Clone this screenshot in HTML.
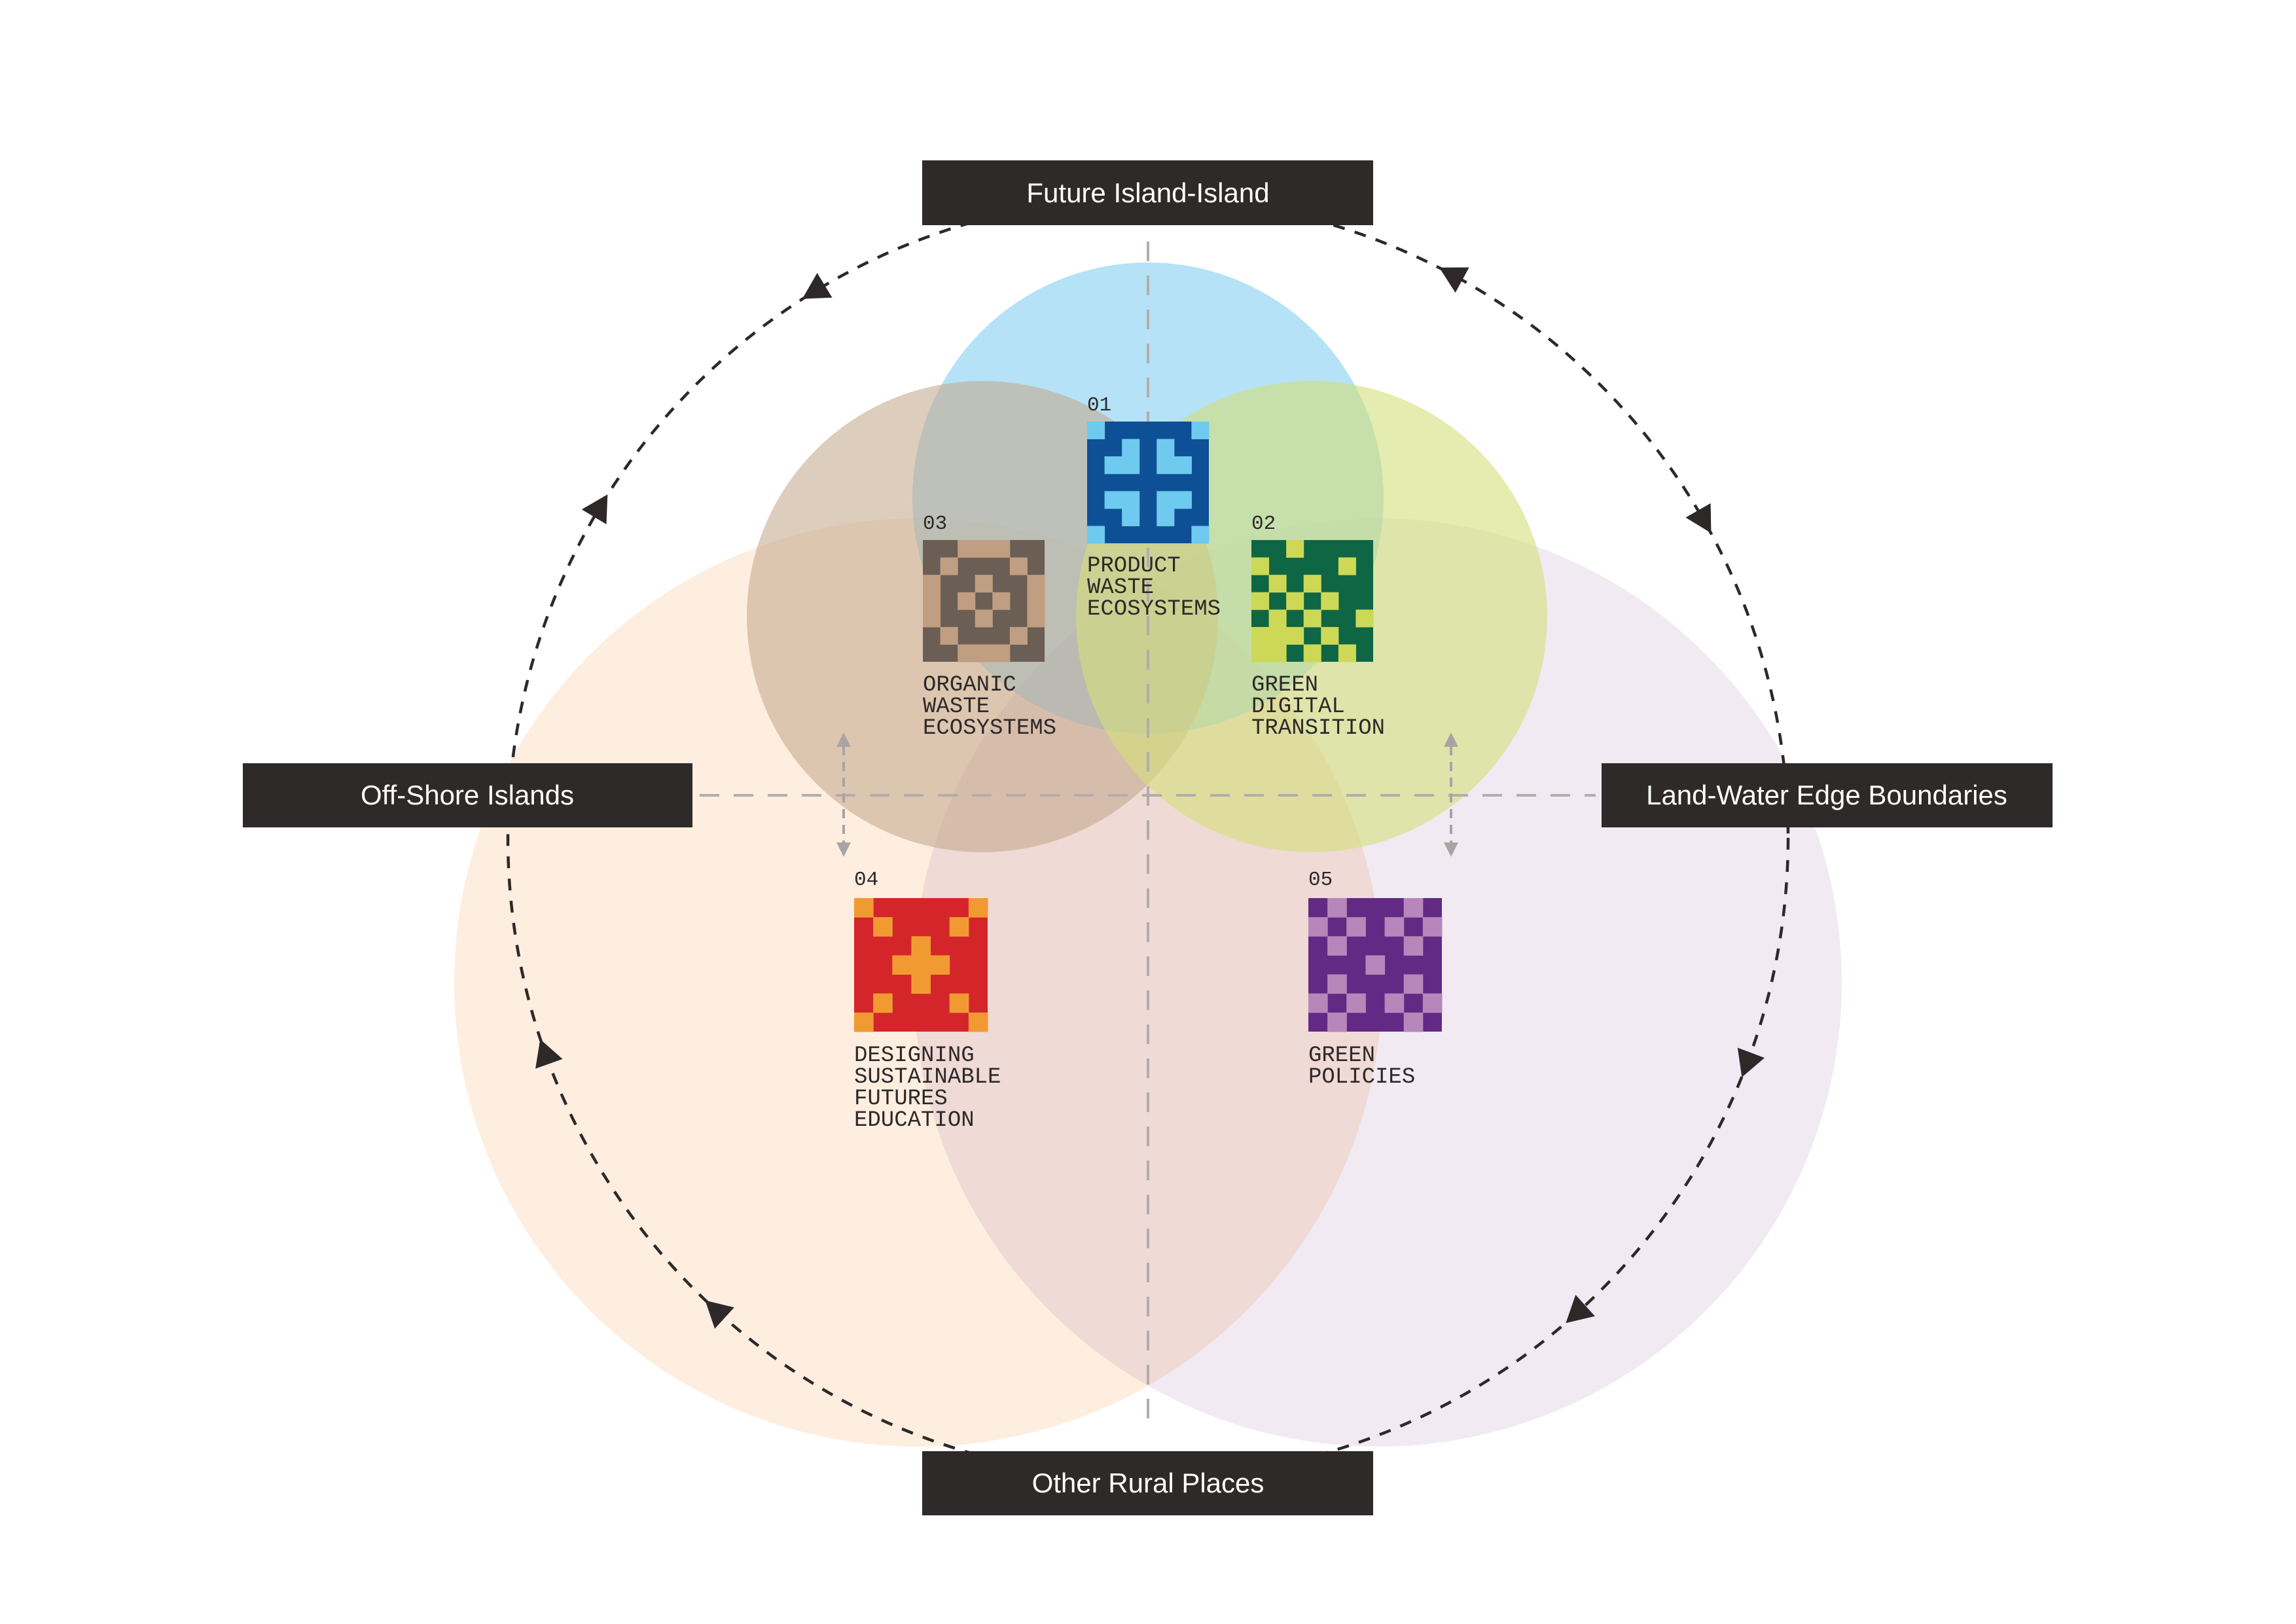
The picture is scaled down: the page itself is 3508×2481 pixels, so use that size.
<!DOCTYPE html>
<html><head><meta charset="utf-8">
<style>
html,body{margin:0;padding:0;background:#fff;}
svg{display:block;}
.lbl{font-family:"Liberation Mono",monospace;font-size:34px;fill:#2d2929;}
.num{font-family:"Liberation Mono",monospace;font-size:31px;fill:#2d2929;}
.box{font-family:"Liberation Sans",sans-serif;font-size:42px;fill:#fff;}
</style></head>
<body>
<svg id="s" width="3508" height="2481" viewBox="0 0 3508 2481" xmlns="http://www.w3.org/2000/svg">
<rect width="3508" height="2481" fill="#fff"/>
<!-- big circles -->
<circle cx="1403" cy="1501" r="709" fill="#fdeee0"/>
<circle cx="2105" cy="1501" r="709" fill="#f1eaf3" style="mix-blend-mode:multiply"/>
<!-- small circles -->
<circle cx="1754" cy="761" r="360" fill="#7fcdf0" fill-opacity="0.58"/>
<circle cx="1501" cy="942" r="360" fill="#c4a88e" fill-opacity="0.58"/>
<circle cx="2004" cy="942" r="360" fill="#d4e07a" fill-opacity="0.6"/>
<!-- gray dashed axes -->
<line x1="1754" y1="369" x2="1754" y2="2181" stroke="#b3acac" stroke-width="4" stroke-dasharray="30,22"/>
<line x1="1069" y1="1215" x2="2438" y2="1215" stroke="#b3acac" stroke-width="4" stroke-dasharray="30,22"/>
<!-- small gray double arrows -->
<g stroke="#a9a4a4" stroke-width="4" stroke-dasharray="14,10">
<line x1="1289" y1="1140" x2="1289" y2="1290"/>
<line x1="2217" y1="1140" x2="2217" y2="1290"/>
</g>
<g fill="#a9a4a4">
<polygon points="1289,1119 1278,1141 1300,1141"/>
<polygon points="1289,1309 1278,1287 1300,1287"/>
<polygon points="2217,1119 2206,1141 2228,1141"/>
<polygon points="2217,1309 2206,1287 2228,1287"/>
</g>
<!-- big dashed circle -->
<circle cx="1754" cy="1280" r="978" fill="none" stroke="#2d2929" stroke-width="4.5" stroke-dasharray="18,16"/>
<g id="arrows" fill="#2d2929"></g>
<!-- boxes -->
<rect x="1409" y="245" width="689" height="99" fill="#2e2a2a"/>
<text class="box" x="1754" y="309" text-anchor="middle">Future Island-Island</text>
<rect x="1409" y="2217" width="689" height="98" fill="#2e2a2a"/>
<text class="box" x="1754" y="2280" text-anchor="middle">Other Rural Places</text>
<rect x="371" y="1166" width="687" height="98" fill="#2e2a2a"/>
<text class="box" x="714" y="1229" text-anchor="middle">Off-Shore Islands</text>
<rect x="2447" y="1166" width="689" height="98" fill="#2e2a2a"/>
<text class="box" x="2791" y="1229" text-anchor="middle">Land-Water Edge Boundaries</text>
<g id="icons"></g>
<!-- labels -->
<text class="num" x="1661" y="627">01</text>
<text class="lbl" x="1661" y="873">PRODUCT</text>
<text class="lbl" x="1661" y="906">WASTE</text>
<text class="lbl" x="1661" y="939">ECOSYSTEMS</text>
<text class="num" x="1410" y="808">03</text>
<text class="lbl" x="1410" y="1055">ORGANIC</text>
<text class="lbl" x="1410" y="1088">WASTE</text>
<text class="lbl" x="1410" y="1121">ECOSYSTEMS</text>
<text class="num" x="1912" y="808">02</text>
<text class="lbl" x="1912" y="1055">GREEN</text>
<text class="lbl" x="1912" y="1088">DIGITAL</text>
<text class="lbl" x="1912" y="1121">TRANSITION</text>
<text class="num" x="1305" y="1352">04</text>
<text class="lbl" x="1305" y="1621">DESIGNING</text>
<text class="lbl" x="1305" y="1654">SUSTAINABLE</text>
<text class="lbl" x="1305" y="1687">FUTURES</text>
<text class="lbl" x="1305" y="1720">EDUCATION</text>
<text class="num" x="1999" y="1352">05</text>
<text class="lbl" x="1999" y="1621">GREEN</text>
<text class="lbl" x="1999" y="1654">POLICIES</text>
</svg>
<script>
(function(){
var NS="http://www.w3.org/2000/svg";
var cx=1754,cy=1280,r=978,s=2.237;
var pts=[[558,200,-1],[408,346,1],[372,720,1],[488,897,1],[994,185,-1],[1163,355,1],[1197,727,1],[1078,897,1]];
var g=document.getElementById("arrows");
pts.forEach(function(p){
  var x=p[0]*s,y=p[1]*s;
  var t=Math.atan2(y-cy,x-cx);
  var px=cx+r*Math.cos(t),py=cy+r*Math.sin(t);
  var dx=-Math.sin(t)*p[2],dy=Math.cos(t)*p[2];
  var ang=Math.atan2(dy,dx)*180/Math.PI;
  var poly=document.createElementNS(NS,"polygon");
  poly.setAttribute("points","24,0 -16,-22 -16,22");
  poly.setAttribute("transform","translate("+px.toFixed(1)+","+py.toFixed(1)+") rotate("+ang.toFixed(1)+")");
  g.appendChild(poly);
});
var icons=[
 {x:1661,y:644,w:186,a:"#0e5096",b:"#6ecaee",m:["1000001","0010100","0110110","0000000","0110110","0010100","1000001"]},
 {x:1410,y:825,w:186,a:"#6a5e55",b:"#c09e82",m:["0011100","0100010","1001001","1010101","1001001","0100010","0011100"]},
 {x:1912,y:825,w:186,a:"#0f6644",b:"#cdd857",m:["0010000","1000010","0101000","1010100","0101001","1110100","1101010"]},
 {x:1305,y:1372,w:204,a:"#d4262a",b:"#f29a32",m:["1000001","0100010","0001000","0011100","0001000","0100010","1000001"]},
 {x:1999,y:1372,w:204,a:"#622a84",b:"#b787bc",m:["0100010","1010101","0100010","0001000","0100010","1010101","0100010"]}
];
var ig=document.getElementById("icons");
icons.forEach(function(ic){
  var c=ic.w/7;
  var bg=document.createElementNS(NS,"rect");
  bg.setAttribute("x",ic.x);bg.setAttribute("y",ic.y);bg.setAttribute("width",ic.w);bg.setAttribute("height",ic.w);bg.setAttribute("fill",ic.a);
  ig.appendChild(bg);
  for(var i=0;i<7;i++)for(var j=0;j<7;j++){
    if(ic.m[i][j]==="1"){
      var rc=document.createElementNS(NS,"rect");
      rc.setAttribute("x",(ic.x+j*c).toFixed(2));rc.setAttribute("y",(ic.y+i*c).toFixed(2));
      rc.setAttribute("width",(c+0.5).toFixed(2));rc.setAttribute("height",(c+0.5).toFixed(2));
      rc.setAttribute("fill",ic.b);ig.appendChild(rc);
    }
  }
});
})();
</script>
</body></html>
